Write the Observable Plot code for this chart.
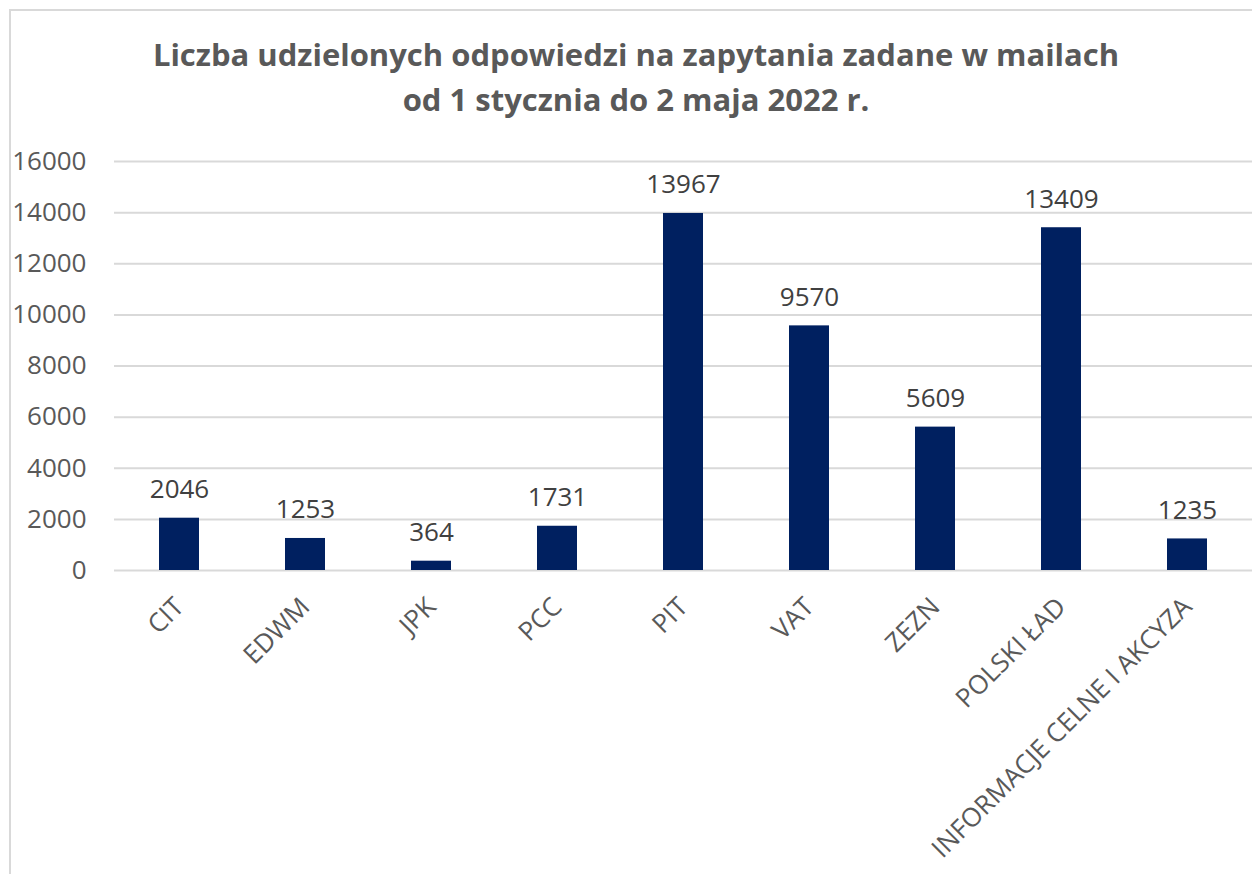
<!DOCTYPE html>
<html>
<head>
<meta charset="utf-8">
<script src="https://cdn.jsdelivr.net/npm/d3@7"></script>
<script src="https://cdn.jsdelivr.net/npm/@observablehq/plot@0.6"></script>
<style>
  html, body { margin: 0; padding: 0; background: #fff; }
  #wrap { position: relative; width: 1252px; height: 874px; overflow: hidden; font-family: "Open Sans", sans-serif; }
  #frame { position: absolute; left: 9px; top: 9px; width: 1300px; height: 900px; border-left: 2px solid #d9d9d9; border-top: 2px solid #d9d9d9; box-sizing: border-box; }
  #title { position: relative; height: 130px; text-align: center; color: #595959; font-weight: bold; font-size: 31px; line-height: 45px; padding-top: 32px; padding-left: 20px; box-sizing: border-box; }
  #chart { position: relative; }
</style>
</head>
<body>
<div id="wrap">
  <div id="frame"></div>
  <div id="title">Liczba udzielonych odpowiedzi na zapytania zadane w mailach<br>od 1 stycznia do 2 maja 2022 r.</div>
  <div id="chart"></div>
</div>
<script>
const categories = ["CIT", "EDWM", "JPK", "PCC", "PIT", "VAT", "ZEZN", "POLSKI ŁAD", "INFORMACJE CELNE I AKCYZA"];
const values = [2046, 1253, 364, 1731, 13967, 9570, 5609, 13409, 1235];
const yTicks = [0, 2000, 4000, 6000, 8000, 10000, 12000, 14000, 16000];

const data = categories.map((c, i) => ({category: c, value: values[i]}));

const chart = Plot.plot({
  width: 1252,
  height: 744,
  marginLeft: 114,
  marginRight: 0,
  marginTop: 31,
  marginBottom: 304,
  style: {fontFamily: "Open Sans, sans-serif", fontSize: "26px", color: "#595959", background: "transparent", overflow: "visible"},
  x: {domain: categories, paddingInner: 0.68, paddingOuter: 0.34, label: null},
  y: {domain: [0, 16000], ticks: yTicks, label: null},
  marks: [
    Plot.gridY(yTicks, {stroke: "#d9d9d9", strokeOpacity: 1, strokeWidth: 2}),
    Plot.barY(data, {x: "category", y: "value", fill: "#002060"}),
    Plot.text(data, {x: "category", y: "value", text: d => String(d.value), lineAnchor: "bottom", dy: -20, fill: "#404040", fontSize: 26}),
    Plot.axisY(yTicks, {tickSize: 0, tickPadding: 28, fontSize: 26, fill: "#595959", tickFormat: d => String(d)}),
    Plot.axisX({tickSize: 0, tickPadding: 32, tickRotate: -45, fontSize: 26, fill: "#595959"})
  ]
});
document.getElementById("chart").appendChild(chart);
</script>
</body>
</html>
